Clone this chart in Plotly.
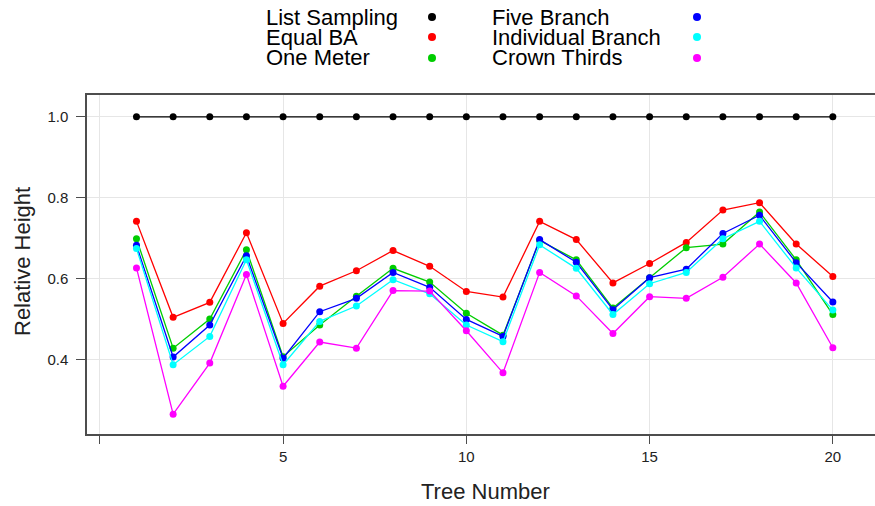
import plotly.graph_objects as go

trees = list(range(1, 21))
list_sampling = [1.0] * 20
equal_ba = [0.742, 0.505, 0.542, 0.714, 0.490, 0.582, 0.620, 0.670, 0.631, 0.569,
            0.555, 0.742, 0.697, 0.590, 0.638, 0.690, 0.770, 0.788, 0.686, 0.606]
one_meter = [0.699, 0.429, 0.501, 0.672, 0.408, 0.486, 0.557, 0.626, 0.592, 0.515,
             0.461, 0.695, 0.647, 0.528, 0.603, 0.677, 0.686, 0.765, 0.647, 0.512]
five_branch = [0.683, 0.407, 0.486, 0.657, 0.404, 0.519, 0.552, 0.616, 0.579, 0.500,
               0.458, 0.697, 0.641, 0.524, 0.603, 0.624, 0.712, 0.757, 0.640, 0.543]
individual_branch = [0.675, 0.388, 0.458, 0.647, 0.388, 0.495, 0.533, 0.598, 0.563, 0.486,
                     0.445, 0.684, 0.626, 0.512, 0.588, 0.616, 0.699, 0.742, 0.627, 0.523]
crown_thirds = [0.627, 0.266, 0.392, 0.611, 0.335, 0.444, 0.429, 0.571, 0.570, 0.472,
                0.368, 0.616, 0.558, 0.465, 0.556, 0.552, 0.604, 0.686, 0.590, 0.430]

series_names = ["List Sampling", "Equal BA", "One Meter",
                "Five Branch", "Individual Branch", "Crown Thirds"]
series_values = [list_sampling, equal_ba, one_meter, five_branch, individual_branch, crown_thirds]
series_colors = ["#000000", "#ff0000", "#00cd00", "#0000ff", "#00ffff", "#ff00ff"]

x_ticks = [0, 5, 10, 15, 20]
x_tick_labels = ["", "5", "10", "15", "20"]
y_ticks = [0.4, 0.6, 0.8, 1.0]

FONT = "Liberation Sans, Arial, sans-serif"
W, H = 875, 506
L, T, B, R = 87, 95, 72, 0
pw, ph = W - L - R, H - T - B

fig = go.Figure()
for name, vals, col in zip(series_names, series_values, series_colors):
    fig.add_trace(go.Scatter(x=trees, y=vals, name=name, mode="lines+markers",
                             line=dict(color=col, width=1.3),
                             marker=dict(color=col, size=7),
                             showlegend=False))

def px_to_paper(px, py):
    return (px - L) / pw, (H - B - py) / ph

# manual legend: text then dot
row_y = [17, 37, 58]
cols = [(264, 432), (490, 697)]
shapes = []
annotations = []
for i, (name, col) in enumerate(zip(series_names, series_colors)):
    c, r = divmod(i, 3)
    tx, dx = cols[c]
    ax, ay = px_to_paper(tx, row_y[r])
    annotations.append(dict(text=name, x=ax, y=ay, xref="paper", yref="paper",
                            xanchor="left", yanchor="middle", showarrow=False,
                            font=dict(family=FONT, size=22, color="#000000")))
    sx, sy = px_to_paper(dx, row_y[r])
    shapes.append(dict(type="circle", xref="paper", yref="paper",
                       xsizemode="pixel", ysizemode="pixel",
                       xanchor=sx, yanchor=sy, x0=-4, x1=4, y0=-4, y1=4,
                       fillcolor=col, line=dict(color=col, width=0)))

# axis titles
tx, ty = px_to_paper(485, 491)
annotations.append(dict(text="Tree Number", x=tx, y=ty, xref="paper", yref="paper",
                        xanchor="center", yanchor="middle", showarrow=False,
                        font=dict(family=FONT, size=22, color="#222222")))
tx, ty = px_to_paper(22, 262)
annotations.append(dict(text="Relative Height", x=tx, y=ty, xref="paper", yref="paper",
                        xanchor="center", yanchor="middle", showarrow=False, textangle=-90,
                        font=dict(family=FONT, size=22, color="#222222")))

fig.update_layout(
    width=W, height=H,
    margin=dict(l=L, r=R, t=T, b=B, autoexpand=False),
    paper_bgcolor="white", plot_bgcolor="white",
    font=dict(family=FONT, size=15, color="#222222"),
    shapes=shapes, annotations=annotations,
    xaxis=dict(range=[-0.35, 21.15], tickvals=x_ticks, ticktext=x_tick_labels,
               showgrid=True, gridcolor="#e6e6e6", gridwidth=1, zeroline=False,
               showline=True, linecolor="#4d4d4d", linewidth=1.5, mirror=True,
               ticks="outside", ticklen=8, tickcolor="#4d4d4d",
               tickfont=dict(size=15), automargin=False),
    yaxis=dict(range=[0.217, 1.054], tickvals=y_ticks, tickformat=".1f",
               showgrid=True, gridcolor="#e6e6e6", gridwidth=1, zeroline=False,
               showline=True, linecolor="#4d4d4d", linewidth=1.5, mirror=True,
               ticks="outside", ticklen=9, tickcolor="#4d4d4d", ticklabelstandoff=5,
               tickfont=dict(size=15), automargin=False),
)

fig.write_html("out.html", config={"displayModeBar": False},
               post_script="document.body.style.margin='0';")
